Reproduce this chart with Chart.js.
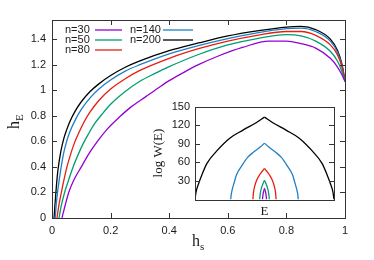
<!DOCTYPE html>
<html>
<head>
<meta charset="utf-8">
<script src="https://cdn.jsdelivr.net/npm/chart.js@4.4.0/dist/chart.umd.min.js"></script>
<style>
html, body { margin: 0; padding: 0; background: #fff; }
#wrap { position: relative; width: 374px; height: 260px; }
#main { position: absolute; left: 0; top: 0; }
#inset { position: absolute; left: 140px; top: 95px; }
</style>
</head>
<body>
<div id="wrap">
  <canvas id="main" width="374" height="260"></canvas>
  <canvas id="inset" width="205" height="125"></canvas>
</div>
<script>
// ---- series names / colours ----
const seriesNames = ["n=30", "n=50", "n=80", "n=140", "n=200"];
const seriesColors = ["#9400d3", "#009e73", "#e51e10", "#1f7fc4", "#000000"];

// ---- main panel: h_E vs h_s ----
const hs30 = [0.034, 0.045, 0.057, 0.075, 0.1, 0.125, 0.155, 0.19, 0.23, 0.27, 0.32, 0.37, 0.4, 0.45, 0.5, 0.57, 0.65, 0.74, 0.8, 0.85, 0.9, 0.95, 0.975, 0.99, 1];
const hE30 = [0, 0.1, 0.2, 0.3, 0.4, 0.5, 0.6, 0.7, 0.79, 0.87, 0.95, 1.03, 1.075, 1.14, 1.2, 1.27, 1.335, 1.385, 1.385, 1.365, 1.33, 1.25, 1.18, 1.12, 1.07];

const hs50 = [0.024, 0.032, 0.043, 0.057, 0.072, 0.09, 0.106, 0.125, 0.146, 0.17, 0.2, 0.25, 0.3, 0.35, 0.4, 0.5, 0.6, 0.7, 0.8, 0.85, 0.9, 0.95, 0.975, 0.99, 1];
const hE50 = [0, 0.1, 0.2, 0.3, 0.4, 0.5, 0.58, 0.66, 0.74, 0.81, 0.89, 0.99, 1.07, 1.13, 1.185, 1.28, 1.355, 1.405, 1.435, 1.425, 1.385, 1.305, 1.225, 1.145, 1.07];

const hs80 = [0.017, 0.025, 0.032, 0.04, 0.051, 0.065, 0.077, 0.09, 0.109, 0.13, 0.16, 0.2, 0.25, 0.3, 0.4, 0.5, 0.6, 0.7, 0.8, 0.85, 0.9, 0.95, 0.975, 0.99, 1];
const hE80 = [0, 0.12, 0.2, 0.29, 0.4, 0.51, 0.59, 0.66, 0.75, 0.83, 0.92, 1.01, 1.09, 1.155, 1.25, 1.325, 1.385, 1.43, 1.46, 1.46, 1.43, 1.355, 1.275, 1.18, 1.07];

const hs140 = [0.011, 0.015, 0.02, 0.03, 0.04, 0.05, 0.06, 0.08, 0.1, 0.13, 0.16, 0.2, 0.25, 0.3, 0.4, 0.5, 0.6, 0.7, 0.8, 0.85, 0.9, 0.95, 0.975, 0.99, 1];
const hE140 = [0, 0.12, 0.22, 0.38, 0.51, 0.6, 0.67, 0.77, 0.85, 0.94, 1.01, 1.08, 1.15, 1.2, 1.285, 1.35, 1.405, 1.45, 1.482, 1.487, 1.46, 1.385, 1.295, 1.19, 1.07];

const hs200 = [0.007, 0.01, 0.015, 0.02, 0.03, 0.04, 0.05, 0.06, 0.08, 0.1, 0.13, 0.16, 0.2, 0.25, 0.3, 0.4, 0.5, 0.6, 0.7, 0.8, 0.85, 0.9, 0.95, 0.975, 0.99, 1];
const hE200 = [0, 0.1, 0.25, 0.37, 0.52, 0.62, 0.69, 0.75, 0.84, 0.91, 0.99, 1.05, 1.115, 1.18, 1.23, 1.31, 1.37, 1.425, 1.465, 1.495, 1.5, 1.475, 1.4, 1.31, 1.2, 1.07];

const xTicks = [0, 0.2, 0.4, 0.6, 0.8, 1];
const yTicks = [0, 0.2, 0.4, 0.6, 0.8, 1, 1.2, 1.4];

// ---- inset: log W(E) vs E ----
const E30 = [-0.03, -0.02, -0.01, 0, 0.01, 0.02, 0.03];
const W30 = [0, 9, 14, 18, 14, 9, 0];
const E50 = [-0.07, -0.06, -0.04, -0.02, 0, 0.02, 0.04, 0.06, 0.07];
const W50 = [0, 10, 20, 26, 31, 26, 20, 10, 0];
const E80 = [-0.167, -0.16, -0.14, -0.11, -0.07, -0.03, 0, 0.03, 0.07, 0.11, 0.14, 0.16, 0.167];
const W80 = [0, 10, 22, 32, 40, 46, 50, 46, 40, 32, 22, 10, 0];
const E140 = [-0.486, -0.479, -0.462, -0.437, -0.403, -0.335, -0.243, -0.151, -0.058, 0, 0.058, 0.151, 0.243, 0.335, 0.403, 0.437, 0.462, 0.479, 0.486];
const W140 = [0, 8, 17, 27, 40, 53, 68, 77, 85, 91, 85, 77, 68, 53, 40, 27, 17, 8, 0];
const E200 = [-1, -0.985, -0.95, -0.9, -0.83, -0.69, -0.5, -0.31, -0.12, 0, 0.12, 0.31, 0.5, 0.69, 0.83, 0.9, 0.95, 0.985, 1];
const W200 = [0, 12, 25, 40, 58, 78, 99, 112, 124, 133, 124, 112, 99, 78, 58, 40, 25, 12, 0];
const insetTicks = [30, 60, 90, 120];

const TXT = "#1a1a1a";
const SANS = "'Liberation Sans', Arial, sans-serif";
const SERIF = "'Liberation Serif', 'Times New Roman', serif";

function pts(xs, ys) { return xs.map((x, i) => ({ x: x, y: ys[i] })); }

const mainX = [hs30, hs50, hs80, hs140, hs200];
const mainY = [hE30, hE50, hE80, hE140, hE200];

// frame, inward ticks, legend and titles
const mainDecor = {
    id: "mainDecor",
    afterDraw(chart) {
        const ctx = chart.ctx, a = chart.chartArea;
        const xs = chart.scales.x, ys = chart.scales.y;
        ctx.save();
        ctx.strokeStyle = "#333";
        ctx.lineWidth = 1;
        ctx.beginPath();
        xTicks.forEach(v => {
            const p = Math.round(xs.getPixelForValue(v)) + 0.5;
            ctx.moveTo(p, a.bottom); ctx.lineTo(p, a.bottom - 5);
            ctx.moveTo(p, a.top); ctx.lineTo(p, a.top + 5);
        });
        yTicks.forEach(v => {
            const p = Math.round(ys.getPixelForValue(v)) + 0.5;
            ctx.moveTo(a.left, p); ctx.lineTo(a.left + 5, p);
            ctx.moveTo(a.right, p); ctx.lineTo(a.right - 5, p);
        });
        ctx.stroke();
        ctx.strokeRect(Math.round(a.left) + 0.5, Math.round(a.top) + 0.5, Math.round(a.right - a.left), Math.round(a.bottom - a.top));

        // legend, gnuplot style: text then line sample
        ctx.font = "11px " + SANS;
        ctx.fillStyle = TXT;
        ctx.textBaseline = "middle";
        ctx.textAlign = "left";
        const cols = [{ tx: 65, l0: 95, l1: 122 }, { tx: 130, l0: 163, l1: 193 }];
        seriesNames.forEach((name, i) => {
            const c = cols[i < 3 ? 0 : 1];
            const y = 30 + (i < 3 ? i : i - 3) * 10;
            ctx.fillText(name, c.tx, y);
            ctx.strokeStyle = seriesColors[i];
            ctx.lineWidth = 1.3;
            ctx.beginPath(); ctx.moveTo(c.l0, y); ctx.lineTo(c.l1, y); ctx.stroke();
        });

        // axis titles with subscripts
        ctx.fillStyle = TXT;
        ctx.textBaseline = "alphabetic";
        ctx.font = "16px " + SERIF;
        ctx.fillText("h", 192, 246);
        ctx.font = "11px " + SERIF;
        ctx.fillText("s", 200, 250);

        ctx.translate(19, 129);
        ctx.rotate(-Math.PI / 2);
        ctx.font = "16px " + SERIF;
        ctx.fillText("h", 0, 0);
        ctx.font = "11px " + SERIF;
        ctx.fillText("E", 8, 4);
        ctx.restore();
    }
};

new Chart(document.getElementById("main"), {
    type: "line",
    data: {
        datasets: seriesNames.map((n, i) => ({
            label: n,
            data: pts(mainX[i], mainY[i]),
            borderColor: seriesColors[i],
            borderWidth: 1.3,
            pointRadius: 0,
            fill: false,
            cubicInterpolationMode: "monotone"
        }))
    },
    options: {
        responsive: false,
        animation: false,
        events: [],
        layout: { padding: { left: 0, right: 29, top: 20, bottom: 0 } },
        plugins: { legend: { display: false }, tooltip: { enabled: false } },
        scales: {
            x: {
                type: "linear", min: 0, max: 1,
                grid: { display: false, drawTicks: false },
                border: { display: false },
                ticks: {
                    stepSize: 0.2, padding: 6, color: TXT, maxRotation: 0,
                    font: { family: SANS, size: 11 },
                    callback: v => String(+v.toFixed(1))
                },
                afterFit: s => { s.height = 42; }
            },
            y: {
                type: "linear", min: 0, max: 1.55,
                grid: { display: false, drawTicks: false },
                border: { display: false },
                ticks: {
                    stepSize: 0.2, padding: 6, color: TXT, includeBounds: false,
                    font: { family: SANS, size: 11 },
                    callback: v => String(+v.toFixed(1))
                },
                afterFit: s => { s.width = 52; }
            }
        }
    },
    plugins: [mainDecor]
});

// ---- inset chart ----
const insetX = [E30, E50, E80, E140, E200];
const insetY = [W30, W50, W80, W140, W200];
const insetSets = [];
seriesNames.forEach((n, i) => {
    const p = pts(insetX[i], insetY[i]);
    const k = insetY[i].indexOf(Math.max(...insetY[i]));
    // two halves so the peak stays a cusp
    [p.slice(0, k + 1), p.slice(k)].forEach(half => insetSets.push({
        label: n,
        data: half,
        borderColor: seriesColors[i],
        borderWidth: 1.3,
        pointRadius: 0,
        fill: false,
        cubicInterpolationMode: "monotone"
    }));
});

const insetDecor = {
    id: "insetDecor",
    beforeDraw(chart) {
        const ctx = chart.ctx, a = chart.chartArea;
        ctx.save();
        ctx.fillStyle = "#fff";
        ctx.fillRect(a.left, a.top, a.right - a.left, a.bottom - a.top);
        ctx.restore();
    },
    afterDraw(chart) {
        const ctx = chart.ctx, a = chart.chartArea, ys = chart.scales.y;
        ctx.save();
        ctx.strokeStyle = "#333";
        ctx.lineWidth = 1;
        ctx.beginPath();
        insetTicks.forEach(v => {
            const p = Math.round(ys.getPixelForValue(v)) + 0.5;
            ctx.moveTo(a.left, p); ctx.lineTo(a.left + 5, p);
            ctx.moveTo(a.right, p); ctx.lineTo(a.right - 5, p);
        });
        ctx.stroke();
        ctx.strokeRect(Math.round(a.left) + 0.5, Math.round(a.top) + 0.5, Math.round(a.right - a.left), Math.round(a.bottom - a.top));

        ctx.fillStyle = TXT;
        ctx.font = "13px " + SERIF;
        ctx.textAlign = "center";
        ctx.textBaseline = "alphabetic";
        ctx.fillText("E", (a.left + a.right) / 2, a.bottom + 15);
        ctx.translate(22, (a.top + a.bottom) / 2);
        ctx.rotate(-Math.PI / 2);
        ctx.fillText("log W(E)", 0, 0);
        ctx.restore();
    }
};

new Chart(document.getElementById("inset"), {
    type: "line",
    data: { datasets: insetSets },
    options: {
        responsive: false,
        animation: false,
        events: [],
        layout: { padding: { left: 0, right: 11, top: 8, bottom: 0 } },
        plugins: { legend: { display: false }, tooltip: { enabled: false } },
        scales: {
            x: {
                type: "linear", min: -1, max: 1,
                grid: { display: false, drawTicks: false },
                border: { display: false },
                ticks: { display: false },
                afterFit: s => { s.height = 20.5; }
            },
            y: {
                type: "linear", min: 0, max: 150,
                grid: { display: false, drawTicks: false },
                border: { display: false },
                ticks: {
                    stepSize: 30, padding: 5, color: TXT,
                    font: { family: SANS, size: 11 },
                    callback: v => (v === 0 ? "" : String(v))
                },
                afterFit: s => { s.width = 55; }
            }
        }
    },
    plugins: [insetDecor]
});
</script>
</body>
</html>
